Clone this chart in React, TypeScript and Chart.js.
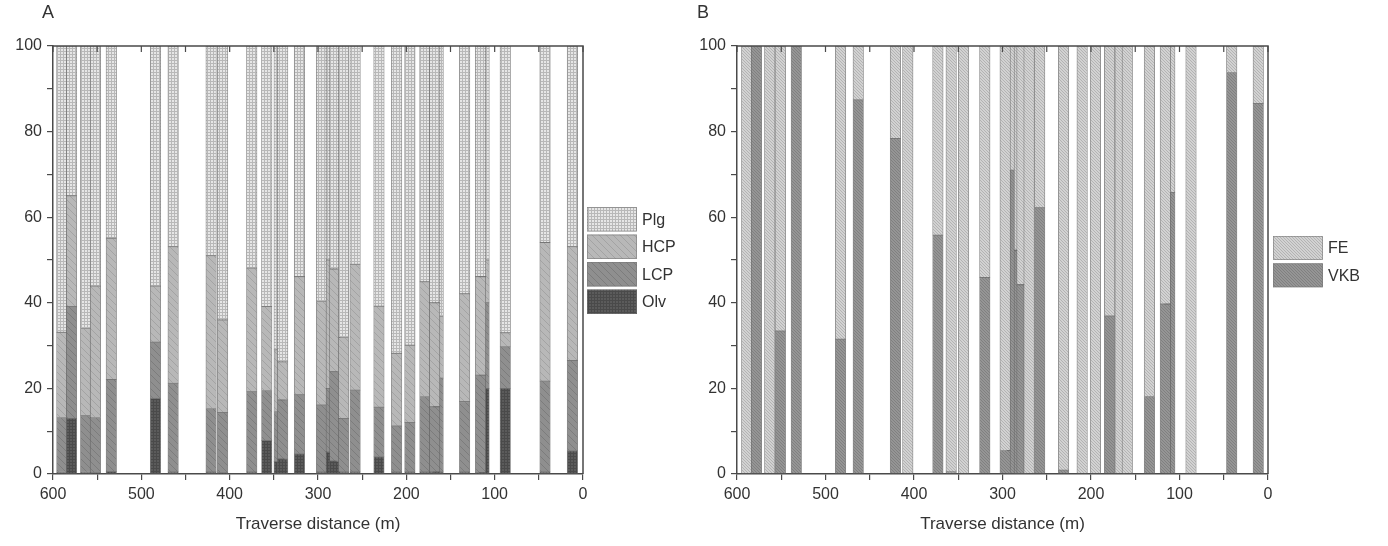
import React, { useEffect, useRef } from 'react';
import { Chart, registerables } from 'chart.js';
Chart.register(...registerables);

// ---------- Panel A : modal composition (%), bars listed in drawing order ----------
const posA = [590, 579, 563, 552, 534, 484, 464, 421, 408, 375, 358, 344, 340, 321, 296, 285, 281, 271, 258, 231, 211, 196, 179, 164, 168, 134, 112, 116, 88, 43, 12];
const olvA = [0.4, 13.0, 0.4, 0.3, 0.6, 17.7, 0.5, 0.5, 0.3, 0.5, 7.8, 2.9, 3.5, 4.7, 0.5, 5.2, 3.0, 0.5, 0.5, 4.0, 0.5, 0.5, 0.5, 0.5, 0.5, 0.5, 20.0, 0.3, 20.0, 0.5, 5.4];
const lcpA = [12.8, 26.1, 13.2, 12.9, 21.5, 13.1, 20.7, 14.8, 14.1, 18.7, 11.7, 11.7, 13.8, 13.8, 15.6, 14.8, 20.9, 12.5, 19.1, 11.6, 10.7, 11.5, 17.6, 21.9, 15.2, 16.4, 20.0, 22.8, 9.7, 21.2, 21.1];
const hcpA = [19.9, 25.9, 20.4, 30.7, 33.0, 13.1, 31.9, 35.7, 21.6, 28.9, 19.6, 14.4, 8.9, 27.6, 24.2, 30.0, 24.0, 18.9, 29.4, 23.6, 17.0, 18.1, 26.8, 14.4, 24.3, 25.2, 10.0, 23.0, 3.3, 32.4, 26.6];
const plgA = [66.9, 35.0, 66.0, 56.1, 44.9, 56.1, 46.9, 49.0, 64.0, 51.9, 60.9, 71.0, 73.8, 53.9, 59.7, 50.0, 52.1, 68.1, 51.0, 60.8, 71.8, 69.9, 55.1, 63.2, 60.0, 57.9, 50.0, 53.9, 67.0, 45.9, 46.9];

// ---------- Panel B : FE / VKB (%), bars listed in drawing order ----------
const posB = [589, 578, 563, 551, 533, 483, 463, 421, 407, 373, 358, 344, 320, 289, 297, 281, 278, 270, 258, 231, 210, 195, 179, 167, 159, 134, 111, 116, 87, 41, 11];
const vkbB = [0, 100, 0, 33.4, 100, 31.5, 87.4, 78.4, 0, 55.8, 0.5, 0, 45.9, 71.0, 5.5, 52.3, 44.2, 0, 62.2, 0.9, 0, 0, 36.9, 0, 0, 18.1, 65.8, 39.7, 0, 93.8, 86.6];
const feB = [100, 0, 100, 66.6, 0, 68.5, 12.6, 21.6, 100, 44.2, 99.5, 100, 54.1, 29.0, 94.5, 47.7, 55.8, 100, 37.8, 99.1, 100, 100, 63.1, 100, 100, 81.9, 34.2, 60.3, 100, 6.2, 13.4];

// ---------- Axes ----------
const xLabelValues = [600, 500, 400, 300, 200, 100, 0];
const yLabelValues = [0, 20, 40, 60, 80, 100];
const xTitle = 'Traverse distance (m)';

const FONT = "'Liberation Sans', Arial, Helvetica, sans-serif";
const TEXT = '#333333';
const AXIS = '#4a4a4a';

function makePattern(ctx: CanvasRenderingContext2D, size: number, bg: string, fg: string, kind: 'grid' | 'diag') {
  const c = document.createElement('canvas');
  c.width = size;
  c.height = size;
  const g = c.getContext('2d')!;
  g.fillStyle = bg;
  g.fillRect(0, 0, size, size);
  g.fillStyle = fg;
  if (kind === 'grid') {
    g.fillRect(0, 0, size, 1);
    g.fillRect(0, 0, 1, size);
  } else {
    for (let i = 0; i < size; i++) g.fillRect(i, i, 1, 1);
  }
  return ctx.createPattern(c, 'repeat') as CanvasPattern;
}

function makeDecor(cfg: any) {
  return {
    id: 'decor' + cfg.letter,
    afterDraw(chart: any) {
      const { ctx, chartArea: a, scales } = chart;
      ctx.save();
      // top and right frame lines
      ctx.strokeStyle = AXIS;
      ctx.lineWidth = 1.5;
      ctx.beginPath();
      ctx.moveTo(a.left, a.top);
      ctx.lineTo(a.right, a.top);
      ctx.lineTo(a.right, a.bottom);
      ctx.stroke();
      // inward ticks on top axis
      ctx.lineWidth = 1.2;
      ctx.beginPath();
      for (const t of scales.x.ticks) {
        const px = scales.x.getPixelForValue(t.value);
        ctx.moveTo(px, a.top);
        ctx.lineTo(px, a.top + 6);
      }
      ctx.stroke();
      // legend
      cfg.items.forEach((it: any, k: number) => {
        const y = cfg.legendTop + k * cfg.pitch;
        ctx.fillStyle = it.pattern;
        ctx.fillRect(cfg.legendX, y, 50, cfg.boxH);
        ctx.strokeStyle = 'rgba(120,120,120,0.7)';
        ctx.lineWidth = 0.8;
        ctx.strokeRect(cfg.legendX + 0.5, y + 0.5, 49, cfg.boxH - 1);
        ctx.fillStyle = TEXT;
        ctx.font = `16px ${FONT}`;
        ctx.textBaseline = 'middle';
        ctx.textAlign = 'left';
        ctx.fillText(it.label, cfg.legendX + 55, y + cfg.boxH / 2 + 1);
      });
      // panel letter
      ctx.fillStyle = TEXT;
      ctx.font = `18px ${FONT}`;
      ctx.textBaseline = 'top';
      ctx.textAlign = 'left';
      ctx.fillText(cfg.letter, cfg.letterX, 4);
      ctx.restore();
    },
  };
}

function makeConfig(datasets: any[], yWidth: number, padRight: number, decor: any) {
  const tickFont = { family: FONT, size: 16 };
  return {
    type: 'bar',
    data: { datasets },
    options: {
      animation: false,
      responsive: false,
      events: [],
      layout: { padding: { left: 0, right: padRight, top: 46, bottom: 0 } },
      plugins: { legend: { display: false }, tooltip: { enabled: false } },
      scales: {
        x: {
          type: 'linear',
          min: 0,
          max: 600,
          reverse: true,
          stacked: true,
          offset: false,
          grid: { offset: false, drawOnChartArea: false, drawTicks: true, tickLength: 6, color: AXIS, lineWidth: 1.2 },
          border: { display: true, color: AXIS, width: 1.5 },
          ticks: {
            stepSize: 50,
            autoSkip: false,
            maxRotation: 0,
            padding: 5,
            color: TEXT,
            font: tickFont,
            callback: (v: any) => (xLabelValues.includes(Number(v)) ? String(v) : ''),
          },
          title: { display: true, text: xTitle, color: TEXT, font: { family: FONT, size: 17 }, padding: { top: 0, bottom: 11 } },
          afterFit: (s: any) => {
            s.height = 72;
          },
        },
        y: {
          type: 'linear',
          min: 0,
          max: 100,
          stacked: true,
          grid: { drawOnChartArea: false, drawTicks: true, tickLength: 6, color: AXIS, lineWidth: 1.2 },
          border: { display: true, color: AXIS, width: 1.5 },
          ticks: {
            stepSize: 10,
            padding: 5,
            color: TEXT,
            font: tickFont,
            callback: (v: any) => (yLabelValues.includes(Number(v)) ? String(v) : ''),
          },
          afterFit: (s: any) => {
            s.width = yWidth;
          },
        },
      },
    },
    plugins: [decor],
  };
}

function barDataset(x: number, v: number, pattern: CanvasPattern) {
  return {
    data: [{ x, y: v > 0 ? v : null }],
    backgroundColor: pattern,
    borderColor: 'rgba(95,95,95,0.75)',
    borderWidth: 0.8,
    borderSkipped: false,
    barThickness: 10.5,
  };
}

export default function App() {
  const refA = useRef<HTMLCanvasElement>(null);
  const refB = useRef<HTMLCanvasElement>(null);

  useEffect(() => {
    const ca = refA.current!;
    const cb = refB.current!;
    const ctxA = ca.getContext('2d')!;
    const ctxB = cb.getContext('2d')!;

    const pPlg = makePattern(ctxA, 3, '#e6e6e6', '#b8b8b8', 'grid');
    const pHcp = makePattern(ctxA, 7, '#b8b8b8', '#a3a3a3', 'diag');
    const pLcp = makePattern(ctxA, 7, '#8f8f8f', '#7c7c7c', 'diag');
    const pOlv = makePattern(ctxA, 3, '#5b5b5b', '#4a4a4a', 'grid');
    const pFe = makePattern(ctxB, 3, '#d2d2d2', '#b3b3b3', 'diag');
    const pVkb = makePattern(ctxB, 3, '#959595', '#808080', 'diag');

    // build datasets: later bars in the list must be drawn on top -> lower dataset index
    const dsA: any[] = [];
    for (let i = posA.length - 1; i >= 0; i--) {
      dsA.push(barDataset(posA[i], olvA[i], pOlv));
      dsA.push(barDataset(posA[i], lcpA[i], pLcp));
      dsA.push(barDataset(posA[i], hcpA[i], pHcp));
      dsA.push(barDataset(posA[i], plgA[i], pPlg));
    }
    const dsB: any[] = [];
    for (let i = posB.length - 1; i >= 0; i--) {
      dsB.push(barDataset(posB[i], vkbB[i], pVkb));
      dsB.push(barDataset(posB[i], feB[i], pFe));
    }

    const decorA = makeDecor({
      letter: 'A',
      letterX: 42,
      legendX: 587,
      legendTop: 207,
      pitch: 27.5,
      boxH: 24.5,
      items: [
        { label: 'Plg', pattern: pPlg },
        { label: 'HCP', pattern: pHcp },
        { label: 'LCP', pattern: pLcp },
        { label: 'Olv', pattern: pOlv },
      ],
    });
    const decorB = makeDecor({
      letter: 'B',
      letterX: 17,
      legendX: 593,
      legendTop: 236,
      pitch: 27.3,
      boxH: 24,
      items: [
        { label: 'FE', pattern: pFe },
        { label: 'VKB', pattern: pVkb },
      ],
    });

    const chartA = new Chart(ca, makeConfig(dsA, 53, 97, decorA) as any);
    const chartB = new Chart(cb, makeConfig(dsB, 57, 120, decorB) as any);
    return () => {
      chartA.destroy();
      chartB.destroy();
    };
  }, []);

  return (
    <div style={{ position: 'absolute', left: 0, top: 0, width: 1388, height: 546, background: '#ffffff' }}>
      <canvas ref={refA} width={680} height={546} style={{ position: 'absolute', left: 0, top: 0 }} />
      <canvas ref={refB} width={708} height={546} style={{ position: 'absolute', left: 680, top: 0 }} />
    </div>
  );
}
